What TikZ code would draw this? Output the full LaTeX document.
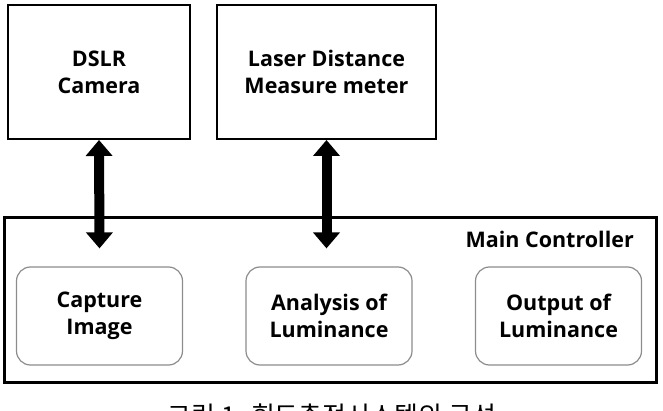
\documentclass[tikz,border=0pt]{standalone}
\usepackage{fontspec}
\setmainfont{Open Sans}
\newfontfamily\krfont{Noto Sans CJK KR}
\usetikzlibrary{arrows.meta, positioning}
\newcommand{\blockfont}{\fontsize{21.5}{27}\selectfont\bfseries}
\tikzset{
    device/.style={rectangle, draw=black, line width=2pt, minimum height=134pt, text centered, align=center, font=\blockfont},
    module/.style={rectangle, rounded corners=14pt, draw=black!45, line width=1.2pt, minimum width=166pt, minimum height=98pt, text centered, align=center, font=\blockfont},
    controller/.style={rectangle, draw=black, line width=3.5pt, minimum width=652pt, minimum height=165pt},
    link/.style={{Triangle[width=26pt,length=16pt]}-{Triangle[width=26pt,length=16pt]}, line width=10pt},
}
\begin{document}
\begin{tikzpicture}[x=1pt, y=-1pt, node distance=27pt and 27pt]
        \path[use as bounding box, clip] (0,0) rectangle (663,411);
        % Devices
        \node[device, minimum width=182pt] (dslr) at (99,72) {DSLR\\Camera};
        \node[device, minimum width=219pt, right=25pt of dslr] (laser) {Laser Distance\\Measure meter};

        % Controller
        \node[controller] (main) at (330.5,300) {};
        \node[anchor=north east, inner sep=0pt, font=\blockfont] (title) at (634,231) {Main Controller};
        \node[module] (capture) at (99.5,316) {Capture\\Image};
        \node[module] (analysis) at (329,316) {Analysis of\\Luminance};
        \node[module] (output) at (558.5,316) {Output of\\Luminance};

        % Links
        \draw[link] (dslr.south) -- ([yshift=18pt]capture.north);
        \draw[link] (laser.south) -- ([yshift=18pt]laser.south |- analysis.north);

        % Caption
        \node[anchor=north, inner sep=0pt, font=\krfont\fontsize{26}{30}\selectfont] (caption) at (332,404) {그림 1. 휘도측정시스템의 구성};
    \end{tikzpicture}
\end{document}
